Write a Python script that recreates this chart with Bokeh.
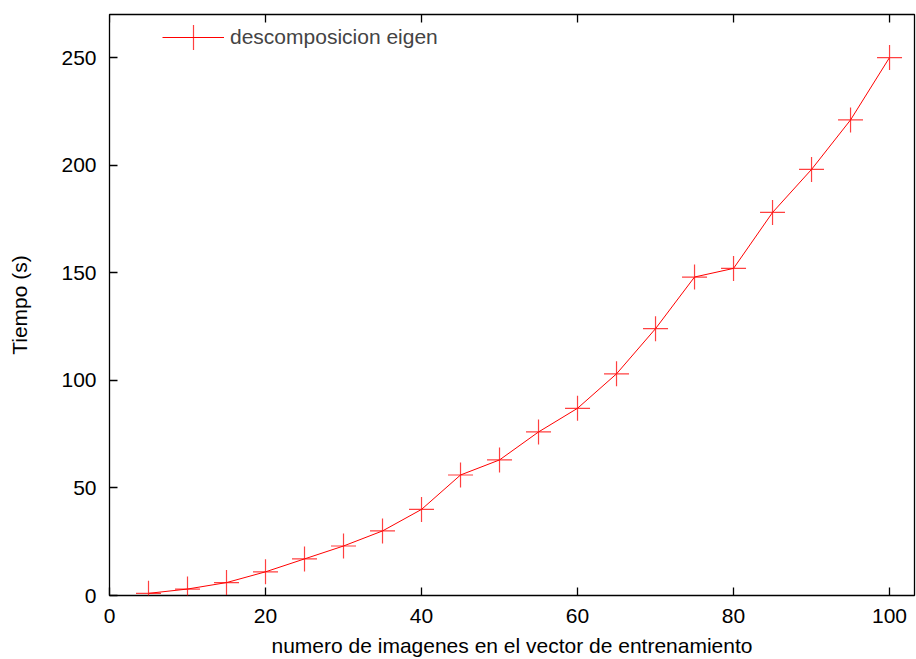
from bokeh.plotting import figure
from bokeh.models import (LinearAxis, FixedTicker, Range1d, Legend, LegendItem,
                          ColumnDataSource)
from bokeh.embed import file_html
from bokeh.resources import INLINE

# Data
n_images = [5, 10, 15, 20, 25, 30, 35, 40, 45, 50, 55, 60, 65, 70, 75, 80, 85, 90, 95, 100]
tiempo = [1, 3, 6, 11, 17, 23, 30, 40, 56, 63, 76, 87, 103, 124, 148, 152, 178, 198, 221, 250]
x_ticks = [0, 20, 40, 60, 80, 100]
y_ticks = [0, 50, 100, 150, 200, 250]
x_max = 103.2
y_max = 270
series_name = "descomposicion eigen"
x_label = "numero de imagenes en el vector de entrenamiento"
y_label = "Tiempo (s)"

FONT = "Liberation Sans"
FS = "21px"
FRAME_H = 581           # plot-area height in pixels
TICK_PX = 8             # inward tick length in pixels
tick_len = TICK_PX * y_max / FRAME_H

p = figure(width=916, height=659, output_backend="svg", toolbar_location=None,
           x_range=Range1d(0, x_max), y_range=Range1d(0, y_max),
           min_border_left=109, min_border_right=2, min_border_top=14, min_border_bottom=64,
           x_axis_location=None, y_axis_location=None)
p.xgrid.visible = False
p.ygrid.visible = False
p.outline_line_color = "black"
p.outline_line_width = 1.3
p.background_fill_color = "white"
p.border_fill_color = "white"

def style(ax):
    ax.axis_line_color = None
    ax.major_tick_in = TICK_PX
    ax.major_tick_out = 0
    ax.minor_tick_line_color = None
    ax.major_tick_line_color = "black"
    ax.major_tick_line_width = 1.3
    ax.major_label_text_font = FONT
    ax.major_label_text_font_size = FS
    ax.major_label_text_color = "black"
    ax.major_label_text_line_height = 1.0
    ax.axis_label_text_font = FONT
    ax.axis_label_text_font_size = FS
    ax.axis_label_text_font_style = "normal"
    ax.axis_label_text_color = "black"
    ax.axis_label_text_line_height = 1.0

xb = LinearAxis(ticker=FixedTicker(ticks=x_ticks), axis_label=x_label)
style(xb)
xb.major_label_standoff = 13
xb.axis_label_standoff = 8
p.add_layout(xb, "below")

yl = LinearAxis(ticker=FixedTicker(ticks=y_ticks), axis_label=y_label)
style(yl)
yl.major_label_standoff = 13
yl.axis_label_standoff = 27
p.add_layout(yl, "left")

# mirrored ticks on the top edge (pointing inward)
top_src = ColumnDataSource(dict(tx=x_ticks, ty0=[y_max] * len(x_ticks),
                                ty1=[y_max - tick_len] * len(x_ticks)))
p.segment(x0="tx", y0="ty0", x1="tx", y1="ty1", source=top_src,
          line_color="black", line_width=1.3)

src = ColumnDataSource(dict(x=n_images, y=tiempo))
ln = p.line("x", "y", source=src, line_color="#ff0000", line_width=1)
mk = p.scatter("x", "y", source=src, marker="cross", size=25,
               line_color="#ff0000", line_width=1.2, line_alpha=0.75)

leg = Legend(items=[LegendItem(label=series_name, renderers=[ln, mk])],
             location=(53, 527), glyph_width=62, glyph_height=62,
             label_text_font=FONT, label_text_font_size=FS,
             border_line_color=None, background_fill_alpha=0,
             padding=4, spacing=0, label_standoff=6)
p.add_layout(leg, "center")

open("out.html", "w").write(file_html(p, INLINE))
